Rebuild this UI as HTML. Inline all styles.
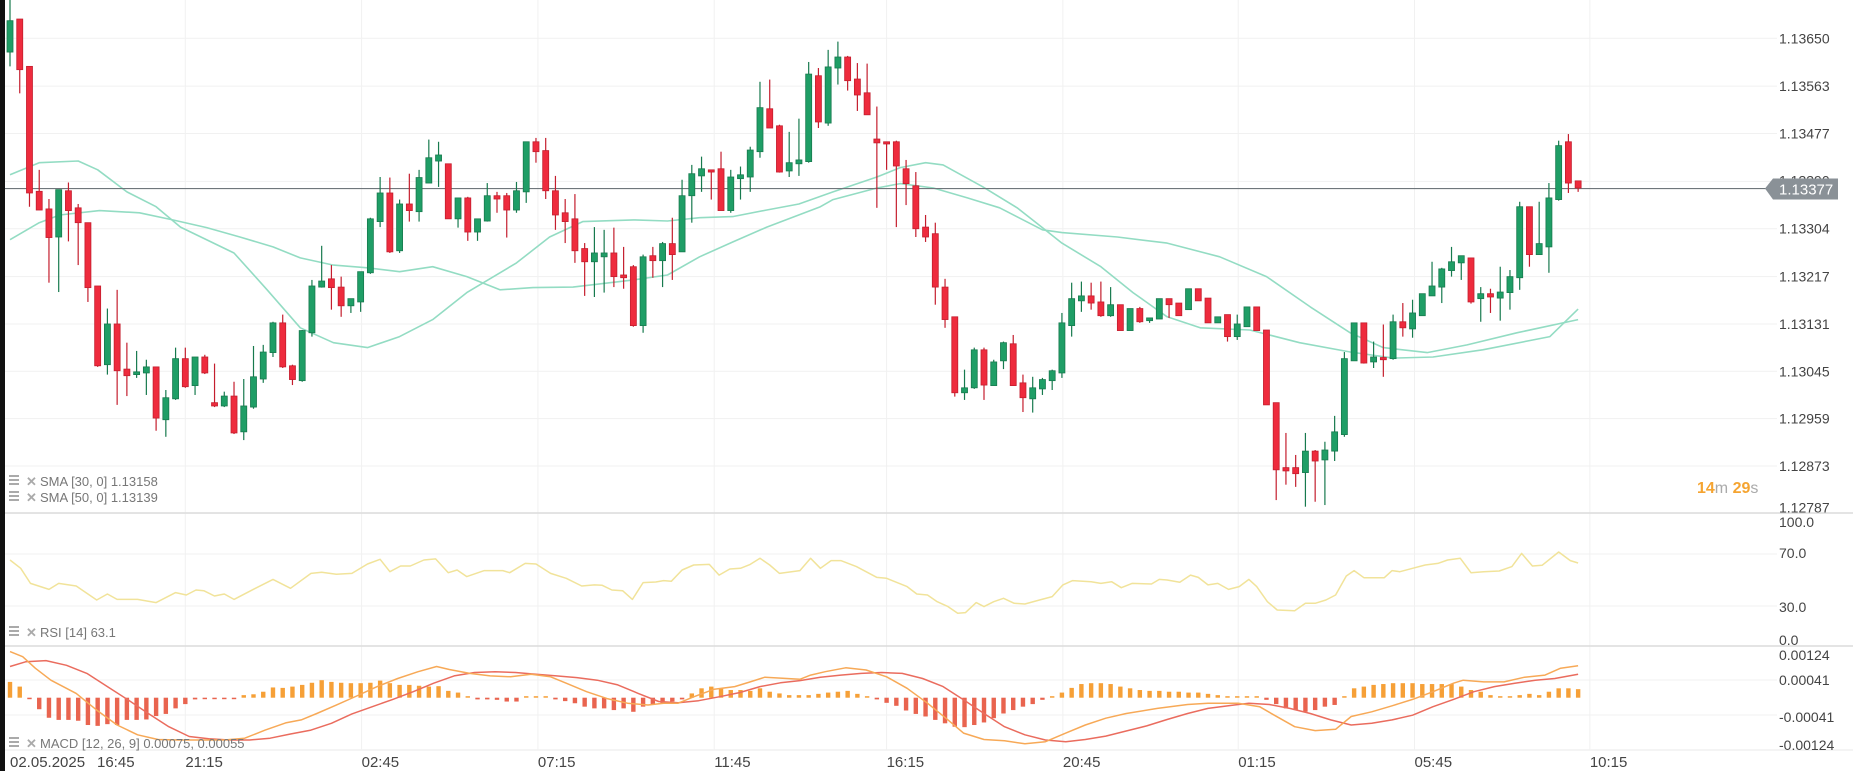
<!DOCTYPE html>
<html><head><meta charset="utf-8">
<style>
html,body{margin:0;padding:0;background:#fff;}
body{width:1853px;height:771px;overflow:hidden;font-family:"Liberation Sans",sans-serif;}
svg{display:block;}
</style></head>
<body>
<svg id="chart" width="1853" height="771" xmlns="http://www.w3.org/2000/svg" font-family="Liberation Sans, sans-serif">
<g id="grid"></g>
<g id="sma"></g>
<g id="candles"></g>
<g id="rsi"></g>
<g id="macd"></g>
<g id="axes"></g>
<rect x="0" y="0" width="5" height="771" fill="#111"/>
</svg>
<script>
const opens=[1.13625,1.13685,1.13599,1.13372,1.13340,1.13289,1.13373,1.13342,1.13315,1.13200,1.13057,1.13131,1.13049,1.13039,1.13042,1.13053,1.12957,1.12995,1.13068,1.13019,1.13071,1.12988,1.12982,1.13000,1.12935,1.12980,1.13031,1.13079,1.13133,1.13055,1.13028,1.13115,1.13198,1.13213,1.13198,1.13164,1.13171,1.13224,1.13317,1.13369,1.13264,1.13349,1.13335,1.13387,1.13427,1.13422,1.13322,1.13360,1.13298,1.13318,1.13364,1.13364,1.13338,1.13371,1.13462,1.13446,1.13373,1.13333,1.13322,1.13268,1.13244,1.13253,1.13260,1.13220,1.13235,1.13128,1.13255,1.13246,1.13277,1.13262,1.13364,1.13400,1.13411,1.13413,1.13337,1.13395,1.13398,1.13444,1.13522,1.13491,1.13409,1.13422,1.13426,1.13582,1.13496,1.13596,1.13616,1.13576,1.13551,1.13467,1.13462,1.13462,1.13413,1.13382,1.13307,1.13295,1.13198,1.13144,1.13006,1.13015,1.13084,1.13019,1.13064,1.13095,1.13024,1.12995,1.13013,1.13028,1.13042,1.13128,1.13173,1.13182,1.13171,1.13146,1.13166,1.13119,1.13159,1.13137,1.13140,1.13177,1.13169,1.13157,1.13195,1.13178,1.13133,1.13148,1.13108,1.13126,1.13162,1.13120,1.12988,1.12870,1.12870,1.12861,1.12900,1.12884,1.12900,1.12930,1.13064,1.13133,1.13062,1.13070,1.13068,1.13135,1.13122,1.13146,1.13182,1.13198,1.13228,1.13242,1.13251,1.13177,1.13186,1.13178,1.13188,1.13215,1.13344,1.13257,1.13271,1.13357,1.13462,1.13391];
const highs=[1.13724,1.13685,1.13599,1.13411,1.13358,1.13375,1.13388,1.13349,1.13315,1.13200,1.13159,1.13193,1.13097,1.13082,1.13066,1.13053,1.13011,1.13088,1.13088,1.13071,1.13075,1.13059,1.13008,1.13026,1.13031,1.13091,1.13093,1.13135,1.13148,1.13057,1.13120,1.13211,1.13273,1.13238,1.13217,1.13177,1.13226,1.13324,1.13398,1.13397,1.13357,1.13404,1.13411,1.13466,1.13462,1.13422,1.13360,1.13362,1.13322,1.13387,1.13371,1.13369,1.13389,1.13462,1.13469,1.13469,1.13400,1.13358,1.13367,1.13278,1.13307,1.13302,1.13306,1.13271,1.13238,1.13257,1.13271,1.13280,1.13324,1.13393,1.13420,1.13435,1.13411,1.13444,1.13411,1.13417,1.13453,1.13571,1.13575,1.13493,1.13480,1.13504,1.13607,1.13596,1.13629,1.13644,1.13618,1.13605,1.13604,1.13526,1.13462,1.13464,1.13429,1.13407,1.13329,1.13315,1.13213,1.13144,1.13048,1.13088,1.13088,1.13066,1.13099,1.13111,1.13039,1.13035,1.13033,1.13048,1.13151,1.13206,1.13208,1.13206,1.13208,1.13198,1.13166,1.13159,1.13162,1.13142,1.13177,1.13177,1.13169,1.13195,1.13195,1.13178,1.13144,1.13148,1.13148,1.13162,1.13162,1.13120,1.12988,1.12933,1.12893,1.12933,1.12902,1.12917,1.12964,1.13080,1.13133,1.13133,1.13099,1.13130,1.13148,1.13169,1.13175,1.13186,1.13244,1.13233,1.13271,1.13255,1.13251,1.13198,1.13195,1.13235,1.13229,1.13353,1.13344,1.13353,1.13387,1.13464,1.13476,1.13391];
const lows=[1.13599,1.13550,1.13344,1.13338,1.13206,1.13189,1.13281,1.13238,1.13171,1.13053,1.13039,1.12984,1.13000,1.13033,1.13002,1.12937,1.12926,1.12993,1.13015,1.13002,1.13040,1.12980,1.12980,1.12931,1.12920,1.12977,1.13024,1.13071,1.13051,1.13020,1.13026,1.13108,1.13197,1.13157,1.13144,1.13151,1.13153,1.13222,1.13307,1.13260,1.13260,1.13317,1.13317,1.13387,1.13380,1.13322,1.13306,1.13282,1.13282,1.13317,1.13333,1.13288,1.13333,1.13351,1.13424,1.13358,1.13302,1.13278,1.13242,1.13182,1.13180,1.13188,1.13198,1.13195,1.13126,1.13115,1.13215,1.13198,1.13211,1.13262,1.13315,1.13371,1.13357,1.13337,1.13333,1.13357,1.13371,1.13433,1.13487,1.13406,1.13398,1.13400,1.13424,1.13487,1.13491,1.13566,1.13555,1.13518,1.13511,1.13342,1.13411,1.13307,1.13347,1.13289,1.13280,1.13166,1.13124,1.12999,1.12993,1.13013,1.12993,1.13019,1.13049,1.13019,1.12971,1.12970,1.13002,1.13011,1.13033,1.13108,1.13153,1.13157,1.13144,1.13144,1.13119,1.13119,1.13133,1.13133,1.13140,1.13142,1.13146,1.13157,1.13173,1.13133,1.13133,1.13099,1.13102,1.13126,1.13119,1.12984,1.12811,1.12839,1.12835,1.12799,1.12808,1.12802,1.12882,1.12926,1.13064,1.13059,1.13051,1.13035,1.13066,1.13108,1.13106,1.13146,1.13182,1.13169,1.13217,1.13211,1.13168,1.13135,1.13151,1.13137,1.13157,1.13193,1.13235,1.13257,1.13224,1.13355,1.13369,1.13371];
const closes=[1.13682,1.13593,1.13369,1.13338,1.13288,1.13375,1.13337,1.13315,1.13197,1.13055,1.13131,1.13046,1.13037,1.13044,1.13053,1.12960,1.12997,1.13068,1.13017,1.13071,1.13042,1.12982,1.13000,1.12933,1.12982,1.13035,1.13080,1.13133,1.13053,1.13030,1.13119,1.13200,1.13209,1.13197,1.13164,1.13177,1.13226,1.13322,1.13369,1.13262,1.13349,1.13337,1.13397,1.13433,1.13438,1.13322,1.13360,1.13298,1.13322,1.13364,1.13358,1.13338,1.13373,1.13462,1.13444,1.13373,1.13329,1.13317,1.13264,1.13244,1.13260,1.13260,1.13217,1.13215,1.13128,1.13253,1.13246,1.13277,1.13257,1.13364,1.13404,1.13413,1.13407,1.13337,1.13398,1.13402,1.13447,1.13524,1.13487,1.13407,1.13424,1.13429,1.13585,1.13498,1.13598,1.13616,1.13573,1.13547,1.13511,1.13460,1.13458,1.13418,1.13386,1.13304,1.13289,1.13198,1.13139,1.13006,1.13015,1.13084,1.13020,1.13062,1.13097,1.13019,1.12997,1.13015,1.13030,1.13046,1.13133,1.13177,1.13182,1.13169,1.13146,1.13166,1.13119,1.13159,1.13135,1.13142,1.13177,1.13166,1.13146,1.13195,1.13173,1.13133,1.13144,1.13108,1.13131,1.13162,1.13119,1.12984,1.12866,1.12864,1.12859,1.12900,1.12882,1.12902,1.12935,1.13068,1.13133,1.13060,1.13071,1.13066,1.13135,1.13124,1.13151,1.13186,1.13200,1.13231,1.13244,1.13255,1.13171,1.13186,1.13180,1.13189,1.13217,1.13344,1.13257,1.13277,1.13360,1.13455,1.13387,1.13378];
const sma30Idx=[0,3,7,9,12,15,17.5,23,26.4,29.8,33.2,36.7,40,43.4,46.9,52,55.4,58.8,64,67.5,70.8,74.2,77.7,81,84.5,89,91.4,94,95.8,99.9,103.4,106,108,112,115.3,118.8,122.2,127.3,132.4,137.6,142,146.1,151.2,156.4,158.1,161];
const sma30Val=[1.13402,1.13424,1.13427,1.13411,1.13371,1.13344,1.13307,1.13260,1.13193,1.13124,1.13097,1.13088,1.13108,1.13139,1.13188,1.13242,1.13289,1.13317,1.13320,1.13318,1.13324,1.13326,1.13338,1.13349,1.13371,1.13398,1.13415,1.13424,1.13420,1.13380,1.13342,1.13306,1.13278,1.13235,1.13188,1.13144,1.13124,1.13120,1.13097,1.13080,1.13069,1.13071,1.13084,1.13102,1.13108,1.13158];
const sma50Idx=[0,3,5.1,9.2,13.3,16.7,20.2,23.6,27,29.8,33.2,36.7,40,43.4,46.9,50.3,53.7,57.8,64,67.5,70.8,74.2,77.7,83.2,84.5,89,91.4,94.8,98.3,101.6,106,108,113.7,118.8,124.2,129,133.5,137.6,141,145.5,149.6,154.7,161];
const sma50Val=[1.13284,1.13315,1.13329,1.13337,1.13333,1.13320,1.13306,1.13289,1.13271,1.13251,1.13238,1.13233,1.13226,1.13235,1.13217,1.13193,1.13197,1.13198,1.13211,1.13220,1.13253,1.13280,1.13307,1.13344,1.13357,1.13378,1.13386,1.13378,1.13360,1.13342,1.13302,1.13297,1.13289,1.13278,1.13253,1.13217,1.13162,1.13115,1.13088,1.13079,1.13093,1.13115,1.13139];
const rsiIdx=[0,1.1,2.1,4,5,6.8,8.9,10,11,13.1,15,17,18.1,19.1,19.9,21,22,23,25.2,27,28.8,30.9,32,33.5,35.1,36.7,38,39,40.1,41.1,42.5,43.7,45,45.9,46.9,48.7,50.6,51.3,52.9,54,55.5,57.1,58.7,60,60.8,61.8,62.9,63.9,65,66.3,67.1,67.9,69,70.2,71.8,72.8,73.9,75,76,77,78,79,81.1,82.2,83.2,84.3,85.3,86.9,89,90,92.1,93.1,94.2,95.2,96.3,97.3,98.1,99.2,100,101,102,103.1,104.2,105.7,107,108.1,109.1,111,112,113.1,114.1,115.2,117.2,118,118.8,120.1,121.2,122,123,124,125.1,126.2,127.2,128,129.1,130.1,131.9,133,134,135.1,136.1,137.2,138,139,141.1,141.9,142.7,144,145.3,146.6,147.6,148.9,150,151.3,152.9,154.2,155.2,156.3,157.3,159,160.2,161];
const rsiVal=[65.4,59.0,47.4,42.8,47.4,45.4,34.6,39.2,35.1,35.1,32.6,40.3,38.5,42.3,41.8,37.7,39.2,35.1,43.6,50.5,43.6,55.1,55.9,54.4,55.1,62.3,65.9,56.4,60.8,60.8,65.4,66.2,55.6,57.7,52.6,57.2,57.2,55.6,62.8,62.3,55.1,51.3,45.4,46.2,45.9,42.3,41.8,35.1,48,48.5,49.5,49,57.7,61.5,62,53.8,58.5,59,62,66.7,61.5,55.1,57.2,66.7,59,64.9,64.9,60.3,52,51.3,44.9,39.2,38.5,33.3,29.5,24.4,24.9,32.6,29.5,33.3,35.9,32.1,31.5,34.6,37.2,46.2,49.5,48.7,47.4,48.7,44.1,47.4,46.9,50.5,50,48.2,53.8,52,46.2,47.4,42.8,44.9,50.5,44.9,33.3,26.9,26.4,32.1,32.1,34.6,38.5,53.1,57.2,51.8,51.8,57.2,56.4,59,61.5,62.8,65.4,66.7,55.6,56.4,56.9,60.3,70.5,60.8,61.3,71.5,64.9,63.1];
const macdIdx=[0,1.3,2.6,4.2,6.8,8.9,11,13.1,15.2,17.3,19.9,22,24.1,26.2,28.3,29.9,31.5,33.5,35.6,37.7,39.8,41.9,43.8,45.1,47.2,49.3,51.4,53.5,55.5,57.1,59.2,61.3,63.4,65.5,67.1,68.6,70.2,72.3,74.4,76,77.5,79.1,81.1,82.2,83.7,85.8,87.9,90,92.1,94.2,96.3,97.9,100,102.1,104.2,106.3,108.4,110.4,112.5,114.6,117.8,120.9,123,126.1,128.3,129.8,131.9,134,136.1,137.7,139.8,141.9,144,146.1,148.2,149.2,151.3,153.4,155.5,157.6,159.2,161];
const macdVal=[108,96,69,41,10,-29,-64,-87,-98,-99,-99,-99,-95,-76,-59,-52,-37,-17,4,26,45,61,73,66,57,51,49,55,49,34,14,-2,-13,-17,-13,-13,2,20,26,37,48,46,43,53,61,70,65,49,22,-13,-52,-83,-98,-101,-108,-103,-83,-64,-48,-37,-25,-16,-13,-13,-21,-41,-68,-77,-74,-44,-33,-19,-4,14,34,41,37,37,48,53,69,75];
const signalIdx=[0,1.6,3.7,5.8,7.9,10,12.1,14.2,16.3,18.4,20.4,22.5,24.6,26.7,28.8,30.9,33,35.1,37.2,39.3,41.4,43.5,45.6,47.7,49.8,51.9,54,56.1,58.2,60.3,62.4,64.5,66.6,68.6,70.7,72.8,74.9,77,79.1,81.1,83.2,85.3,87.4,89.5,91.6,93.7,95.8,97.9,100,102.1,104.2,106.3,108.4,110.4,112.5,114.6,116.7,118.8,120.9,123,125.7,127.2,129.3,131.4,133.5,135.6,137.7,139.8,141.9,144,146.1,148.2,150.3,152.4,154.5,156.6,158.6,161];
const signalVal=[73,84,87,76,57,26,-5,-37,-68,-91,-96,-99,-99,-95,-85,-76,-60,-38,-21,-4,14,34,51,59,61,59,55,51,47,41,30,10,-9,-12,-7,2,12,26,35,40,48,53,57,59,57,45,26,-5,-37,-68,-87,-99,-103,-98,-90,-78,-66,-51,-37,-25,-17,-13,-16,-25,-37,-52,-64,-60,-52,-41,-21,-4,14,26,34,41,45,55];
const histVal=[37,26,-2,-27,-47,-52,-52,-54,-64,-66,-62,-64,-52,-52,-51,-43,-38,-25,-15,-4,-1,-1,-1,-1,6,8,14,24,23,26,30,35,41,37,35,34,34,35,40,34,30,30,28,26,27,16,12,0,-4,-4,-5,-9,-9,0,1,0,-4,-8,-13,-21,-25,-25,-29,-25,-33,-21,-17,-13,-9,-4,10,22,26,22,18,18,16,22,14,10,6,6,6,9,12,14,16,9,2,-4,-12,-19,-30,-38,-44,-52,-60,-68,-69,-64,-58,-48,-37,-29,-21,-15,-5,0,12,23,32,34,34,32,26,22,18,16,16,14,14,12,12,9,6,2,0,2,0,-5,-15,-25,-29,-33,-29,-21,-17,0,22,26,30,32,34,34,34,32,32,32,32,26,18,14,6,2,2,6,9,6,14,22,22,20];
const priceTicks=[1.13650,1.13563,1.13477,1.13390,1.13304,1.13217,1.13131,1.13045,1.12959,1.12873,1.12787];
const priceTickLabels=["1.13650","1.13563","1.13477","1.13390","1.13304","1.13217","1.13131","1.13045","1.12959","1.12873","1.12787"];
const timeIdx=[0,8.9,18,36.1,54.2,72.3,90,108.1,126.1,144.2,162.2];
const timeLabels=["02.05.2025","16:45","21:15","02:45","07:15","11:45","16:15","20:45","01:15","05:45","10:15"];
const lastPrice=1.13377;

const NS="http://www.w3.org/2000/svg";
function mk(tag,attrs,parent){const e=document.createElementNS(NS,tag);for(const k in attrs)e.setAttribute(k,attrs[k]);parent.appendChild(e);return e;}
const X=i=>10+i*9.74;
const PY=p=>38.3+(1.13650-p)/0.000863*47.5;
const RY=v=>515+(100-v)*1.3;
const MY=v=>697.7-v*1e-5*(17.5/0.00041);
const grid=document.getElementById('grid');
const axes=document.getElementById('axes');
priceTicks.forEach((p,i)=>{
  const l=mk('line',{x1:5,x2:1777,y1:PY(p),y2:PY(p),stroke:'#f1f1f1','stroke-width':1},grid);
  
  
  if(i===3) return;
  const t=mk('text',{x:1779,y:PY(p)+5-(i===10?6:0),'font-size':14,fill:'#444'},axes);
  t.textContent=priceTickLabels[i];
  
  
});
timeIdx.forEach((ti,i)=>{
  if(i>1){
    const l=mk('line',{x1:X(ti),x2:X(ti),y1:0,y2:750,stroke:'#f1f1f1','stroke-width':1},grid);
    
    
  }
  const t=mk('text',{x:i===0?10:(i===1?97:X(ti)),y:767,'font-size':15,fill:'#444'},axes);
  t.textContent=timeLabels[i];
  
  
});
[[513,'price-pane-divider'],[646,'rsi-pane-divider'],[750,'macd-bottom-line']].forEach(([y,n])=>{
  const l=mk('line',{x1:5,x2:1853,y1:y,y2:y,stroke:n==='macd-bottom-line'?'#f1f1f1':'#dcdcdc','stroke-width':1.5},grid);
  
  
});
[554,606].forEach(y=>{const l=mk('line',{x1:5,x2:1777,y1:y,y2:y,stroke:'#f1f1f1'},grid);
  
  });
[680,715].forEach(y=>{const l=mk('line',{x1:5,x2:1777,y1:y,y2:y,stroke:'#f1f1f1'},grid);
  
  });
const sma=document.getElementById('sma');
function poly(idx,vals,fy,color,w,parent,name){
  const pts=idx.map((ix,k)=>X(ix).toFixed(1)+','+fy(vals[k]).toFixed(1)).join(' ');
  const pl=mk('polyline',{points:pts,fill:'none',stroke:color,'stroke-width':w,'stroke-linejoin':'round'},parent);
  
  
}
poly(sma30Idx,sma30Val,PY,'#93dcc3',1.6,sma,'sma-30-line');
poly(sma50Idx,sma50Val,PY,'#93dcc3',1.6,sma,'sma-50-line');
const cl=mk('line',{x1:5,x2:1768,y1:PY(lastPrice),y2:PY(lastPrice),stroke:'#6f767b','stroke-width':1.2},sma);


const cg=document.getElementById('candles');
opens.forEach((o,i)=>{
  const c=closes[i],up=c>=o;
  const fill=up?'#1f9e66':'#ee2b3d', st=up?'#177a4e':'#c41e2e';
  const x=X(i);
  const g=mk('g',{},cg);
  
  
  mk('line',{x1:x,x2:x,y1:PY(highs[i]),y2:PY(lows[i]),stroke:st,'stroke-width':1.2},g);
  const top=PY(Math.max(o,c)),bot=PY(Math.min(o,c));
  mk('rect',{x:x-3,y:top,width:6,height:Math.max(bot-top,2),fill:fill,stroke:st,'stroke-width':0.8},g);
});
const tag=document.getElementById('axes');
const py=PY(lastPrice);
const ghost=mk('text',{x:1779,y:py-3,'font-size':14,fill:'#444'},tag);
ghost.textContent='1.13390';


const tp=mk('polygon',{points:`1765,${py} 1773,${py-10} 1838,${py-10} 1838,${py+11} 1773,${py+11}`,fill:'#8a9197'},tag);


const tt=mk('text',{x:1779,y:py+6,'font-size':15,fill:'#fff'},tag);
tt.textContent='1.13377';


const cd=mk('text',{x:1697,y:493,'font-size':16,'font-weight':'bold',fill:'#f5a431'},tag);
cd.innerHTML='14<tspan fill="#aaa" font-weight="normal">m</tspan> 29<tspan fill="#aaa" font-weight="normal">s</tspan>';


const rg=document.getElementById('rsi');
poly(rsiIdx,rsiVal,RY,'#f1e39a',1.5,rg,'rsi-line');
[['100.0',527],['70.0',558],['30.0',612],['0.0',645]].forEach(([s,y])=>{
  const t=mk('text',{x:1779,y:y,'font-size':14,fill:'#444'},axes);t.textContent=s;
  
  });
const mg=document.getElementById('macd');
histVal.forEach((v,i)=>{
  const y0=MY(0),y1=MY(v);
  const h=Math.max(Math.abs(y1-y0),1.5);
  const r=mk('rect',{x:X(i)-2.2,y:v>=0?y0-h:y0,width:4.4,height:h,fill:v>=0?'#f6a037':'#e9644f'},mg);
  
  
});
poly(signalIdx,signalVal,MY,'#ea6c5e',1.5,mg,'macd-signal-line');
poly(macdIdx,macdVal,MY,'#f7a957',1.5,mg,'macd-line');
[['0.00124',660],['0.00041',685],['-0.00041',722],['-0.00124',750]].forEach(([s,y])=>{
  const t=mk('text',{x:1779,y:y,'font-size':14,fill:'#444'},axes);t.textContent=s;
  
  });
function legend(y,txt,name){
  const g=mk('g',{},axes);
  
  
  mk('rect',{x:9,y:y-6,width:10,height:2,fill:'#aaa'},g);
  mk('rect',{x:9,y:y-2,width:10,height:2,fill:'#aaa'},g);
  mk('rect',{x:9,y:y+2,width:10,height:2,fill:'#aaa'},g);
  const x=mk('text',{x:26,y:y+5,'font-size':13,'font-weight':'bold',fill:'#aaa'},g);x.textContent='✕';
  const t=mk('text',{x:40,y:y+5,'font-size':13,fill:'#777'},g);t.textContent=txt;
}
legend(481,'SMA [30, 0] 1.13158','sma-30-legend');
legend(497,'SMA [50, 0] 1.13139','sma-50-legend');
legend(632,'RSI [14] 63.1','rsi-legend');
legend(743,'MACD [12, 26, 9] 0.00075,  0.00055','macd-legend');
</script>
</body></html>
